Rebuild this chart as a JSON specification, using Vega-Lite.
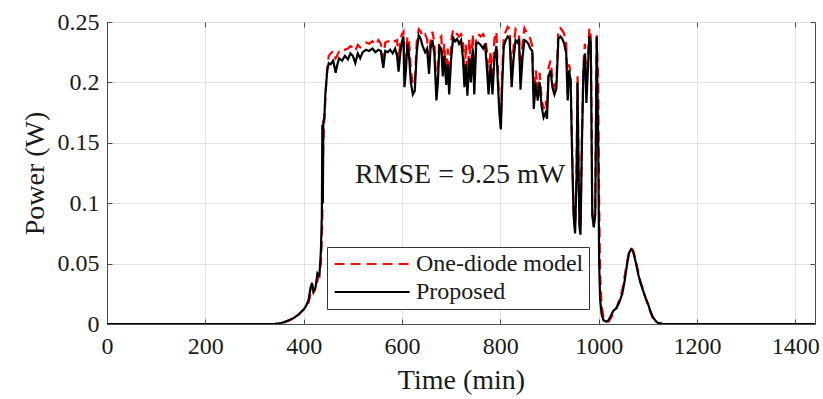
{
  "$schema": "https://vega.github.io/schema/vega-lite/v6.json",
  "width": 708,
  "height": 302,
  "autosize": "none",
  "padding": {"left": 107, "top": 22, "right": 8, "bottom": 75},
  "background": "white",
  "config": {
    "font": "Liberation Serif",
    "view": {"stroke": "#4d4d4d", "strokeWidth": 1},
    "style": {
      "guide-label": {"font": "Liberation Serif"},
      "guide-title": {"font": "Liberation Serif"}
    },
    "axis": {
      "labelFont": "Liberation Serif",
      "titleFont": "Liberation Serif",
      "titleFontWeight": "normal",
      "labelColor": "#1a1a1a",
      "titleColor": "#1a1a1a",
      "labelFontSize": 24,
      "titleFontSize": 28,
      "gridColor": "#e3e3e3",
      "gridWidth": 1,
      "domainColor": "#4d4d4d",
      "tickColor": "#4d4d4d",
      "tickSize": -5
    },
    "legend": {"labelFont": "Liberation Serif"}
  },
  "datasets": {
    "power": [
      {"t": 0, "model": 0, "proposed": 0},
      {"t": 100, "model": 0, "proposed": 0},
      {"t": 200, "model": 0, "proposed": 0},
      {"t": 300, "model": 0, "proposed": 0},
      {"t": 340, "model": 0, "proposed": 0},
      {"t": 350, "model": 0.0005, "proposed": 0.0005},
      {"t": 360, "model": 0.0015, "proposed": 0.0015},
      {"t": 370, "model": 0.003, "proposed": 0.003},
      {"t": 380, "model": 0.005, "proposed": 0.005},
      {"t": 390, "model": 0.008, "proposed": 0.008},
      {"t": 400, "model": 0.012, "proposed": 0.012},
      {"t": 405, "model": 0.014, "proposed": 0.015},
      {"t": 410, "model": 0.018, "proposed": 0.02},
      {"t": 414, "model": 0.025, "proposed": 0.03},
      {"t": 417, "model": 0.03, "proposed": 0.034},
      {"t": 420, "model": 0.026, "proposed": 0.027},
      {"t": 424, "model": 0.029, "proposed": 0.03},
      {"t": 428, "model": 0.036, "proposed": 0.042},
      {"t": 432, "model": 0.042, "proposed": 0.04},
      {"t": 435, "model": 0.05, "proposed": 0.06},
      {"t": 437, "model": 0.07, "proposed": 0.09},
      {"t": 438, "model": 0.09, "proposed": 0.165},
      {"t": 439, "model": 0.12, "proposed": 0.1},
      {"t": 440, "model": 0.15, "proposed": 0.168},
      {"t": 442, "model": 0.17, "proposed": 0.17},
      {"t": 444, "model": 0.185, "proposed": 0.19},
      {"t": 446, "model": 0.2, "proposed": 0.2},
      {"t": 448, "model": 0.212, "proposed": 0.21},
      {"t": 451, "model": 0.222, "proposed": 0.216},
      {"t": 455, "model": 0.224, "proposed": 0.215},
      {"t": 460, "model": 0.226, "proposed": 0.218},
      {"t": 465, "model": 0.22, "proposed": 0.208},
      {"t": 468, "model": 0.222, "proposed": 0.214},
      {"t": 472, "model": 0.226, "proposed": 0.22},
      {"t": 478, "model": 0.228, "proposed": 0.218},
      {"t": 484, "model": 0.227, "proposed": 0.222},
      {"t": 490, "model": 0.228, "proposed": 0.219},
      {"t": 495, "model": 0.23, "proposed": 0.224},
      {"t": 500, "model": 0.229, "proposed": 0.222},
      {"t": 505, "model": 0.226, "proposed": 0.216},
      {"t": 510, "model": 0.231, "proposed": 0.224},
      {"t": 515, "model": 0.229, "proposed": 0.22},
      {"t": 520, "model": 0.232, "proposed": 0.225},
      {"t": 527, "model": 0.233, "proposed": 0.227},
      {"t": 533, "model": 0.232, "proposed": 0.226},
      {"t": 540, "model": 0.234, "proposed": 0.228},
      {"t": 546, "model": 0.231, "proposed": 0.225},
      {"t": 552, "model": 0.235, "proposed": 0.227},
      {"t": 557, "model": 0.232, "proposed": 0.226},
      {"t": 562, "model": 0.22, "proposed": 0.212},
      {"t": 566, "model": 0.233, "proposed": 0.226},
      {"t": 571, "model": 0.234, "proposed": 0.225},
      {"t": 576, "model": 0.234, "proposed": 0.227},
      {"t": 581, "model": 0.236, "proposed": 0.224},
      {"t": 586, "model": 0.234, "proposed": 0.228},
      {"t": 590, "model": 0.235, "proposed": 0.222},
      {"t": 593, "model": 0.218, "proposed": 0.209},
      {"t": 597, "model": 0.236, "proposed": 0.226},
      {"t": 600, "model": 0.24, "proposed": 0.234},
      {"t": 603, "model": 0.242, "proposed": 0.238},
      {"t": 605, "model": 0.205, "proposed": 0.196},
      {"t": 608, "model": 0.22, "proposed": 0.21},
      {"t": 611, "model": 0.238, "proposed": 0.232},
      {"t": 614, "model": 0.236, "proposed": 0.224},
      {"t": 618, "model": 0.21, "proposed": 0.2},
      {"t": 622, "model": 0.198, "proposed": 0.19},
      {"t": 626, "model": 0.2, "proposed": 0.193},
      {"t": 630, "model": 0.234, "proposed": 0.225},
      {"t": 634, "model": 0.244, "proposed": 0.239},
      {"t": 638, "model": 0.242, "proposed": 0.236},
      {"t": 642, "model": 0.238, "proposed": 0.23},
      {"t": 647, "model": 0.24, "proposed": 0.225},
      {"t": 651, "model": 0.236, "proposed": 0.228},
      {"t": 655, "model": 0.214, "proposed": 0.207},
      {"t": 658, "model": 0.236, "proposed": 0.228},
      {"t": 662, "model": 0.242, "proposed": 0.235},
      {"t": 666, "model": 0.232, "proposed": 0.223},
      {"t": 670, "model": 0.194, "proposed": 0.185},
      {"t": 673, "model": 0.21, "proposed": 0.2},
      {"t": 676, "model": 0.236, "proposed": 0.23},
      {"t": 680, "model": 0.238, "proposed": 0.228},
      {"t": 683, "model": 0.212, "proposed": 0.205},
      {"t": 686, "model": 0.232, "proposed": 0.222},
      {"t": 690, "model": 0.206, "proposed": 0.198},
      {"t": 693, "model": 0.228, "proposed": 0.215},
      {"t": 696, "model": 0.2, "proposed": 0.19},
      {"t": 700, "model": 0.234, "proposed": 0.22},
      {"t": 704, "model": 0.244, "proposed": 0.237},
      {"t": 708, "model": 0.242, "proposed": 0.234},
      {"t": 712, "model": 0.24, "proposed": 0.236},
      {"t": 716, "model": 0.238, "proposed": 0.232},
      {"t": 720, "model": 0.24, "proposed": 0.235},
      {"t": 724, "model": 0.236, "proposed": 0.22},
      {"t": 727, "model": 0.2, "proposed": 0.196},
      {"t": 730, "model": 0.232, "proposed": 0.215},
      {"t": 733, "model": 0.196, "proposed": 0.189},
      {"t": 737, "model": 0.236, "proposed": 0.22},
      {"t": 740, "model": 0.21, "proposed": 0.2},
      {"t": 744, "model": 0.24, "proposed": 0.228},
      {"t": 747, "model": 0.2, "proposed": 0.19},
      {"t": 751, "model": 0.238, "proposed": 0.232},
      {"t": 755, "model": 0.24, "proposed": 0.233},
      {"t": 760, "model": 0.238, "proposed": 0.231},
      {"t": 765, "model": 0.24, "proposed": 0.228},
      {"t": 769, "model": 0.236, "proposed": 0.232},
      {"t": 773, "model": 0.226, "proposed": 0.21},
      {"t": 776, "model": 0.198, "proposed": 0.19},
      {"t": 780, "model": 0.226, "proposed": 0.215},
      {"t": 784, "model": 0.2, "proposed": 0.19},
      {"t": 788, "model": 0.236, "proposed": 0.22},
      {"t": 792, "model": 0.242, "proposed": 0.23},
      {"t": 795, "model": 0.21, "proposed": 0.2},
      {"t": 798, "model": 0.182, "proposed": 0.175},
      {"t": 801, "model": 0.168, "proposed": 0.161},
      {"t": 804, "model": 0.21, "proposed": 0.2},
      {"t": 807, "model": 0.238, "proposed": 0.23},
      {"t": 811, "model": 0.242, "proposed": 0.235},
      {"t": 815, "model": 0.246, "proposed": 0.238},
      {"t": 819, "model": 0.244, "proposed": 0.236},
      {"t": 823, "model": 0.205, "proposed": 0.196},
      {"t": 827, "model": 0.23, "proposed": 0.22},
      {"t": 831, "model": 0.244, "proposed": 0.235},
      {"t": 835, "model": 0.242, "proposed": 0.233},
      {"t": 838, "model": 0.24, "proposed": 0.236},
      {"t": 841, "model": 0.2, "proposed": 0.194},
      {"t": 845, "model": 0.232, "proposed": 0.22},
      {"t": 849, "model": 0.245, "proposed": 0.235},
      {"t": 853, "model": 0.242, "proposed": 0.234},
      {"t": 857, "model": 0.24, "proposed": 0.232},
      {"t": 861, "model": 0.236, "proposed": 0.228},
      {"t": 865, "model": 0.23, "proposed": 0.226},
      {"t": 868, "model": 0.184, "proposed": 0.178},
      {"t": 872, "model": 0.21, "proposed": 0.2},
      {"t": 876, "model": 0.195, "proposed": 0.185},
      {"t": 880, "model": 0.208, "proposed": 0.2},
      {"t": 884, "model": 0.186, "proposed": 0.18},
      {"t": 888, "model": 0.178, "proposed": 0.171},
      {"t": 892, "model": 0.185, "proposed": 0.175},
      {"t": 895, "model": 0.178, "proposed": 0.17},
      {"t": 898, "model": 0.212, "proposed": 0.205},
      {"t": 902, "model": 0.218, "proposed": 0.21},
      {"t": 906, "model": 0.204, "proposed": 0.196},
      {"t": 910, "model": 0.196, "proposed": 0.19},
      {"t": 914, "model": 0.2, "proposed": 0.195},
      {"t": 918, "model": 0.244, "proposed": 0.236},
      {"t": 922, "model": 0.245, "proposed": 0.238},
      {"t": 926, "model": 0.243, "proposed": 0.236},
      {"t": 930, "model": 0.24, "proposed": 0.232},
      {"t": 934, "model": 0.232, "proposed": 0.224},
      {"t": 937, "model": 0.19, "proposed": 0.185},
      {"t": 940, "model": 0.215, "proposed": 0.21},
      {"t": 943, "model": 0.206, "proposed": 0.2},
      {"t": 946, "model": 0.145, "proposed": 0.14},
      {"t": 949, "model": 0.094, "proposed": 0.09},
      {"t": 952, "model": 0.078, "proposed": 0.075},
      {"t": 955, "model": 0.125, "proposed": 0.12},
      {"t": 957, "model": 0.205, "proposed": 0.2},
      {"t": 959, "model": 0.135, "proposed": 0.13},
      {"t": 961, "model": 0.083, "proposed": 0.08},
      {"t": 963, "model": 0.078, "proposed": 0.074},
      {"t": 966, "model": 0.155, "proposed": 0.15},
      {"t": 969, "model": 0.215, "proposed": 0.21},
      {"t": 972, "model": 0.232, "proposed": 0.224},
      {"t": 975, "model": 0.19, "proposed": 0.183},
      {"t": 978, "model": 0.22, "proposed": 0.21},
      {"t": 981, "model": 0.245, "proposed": 0.238},
      {"t": 984, "model": 0.238, "proposed": 0.232},
      {"t": 987, "model": 0.095, "proposed": 0.09},
      {"t": 990, "model": 0.082, "proposed": 0.08},
      {"t": 993, "model": 0.092, "proposed": 0.09},
      {"t": 996, "model": 0.24, "proposed": 0.238},
      {"t": 999, "model": 0.2, "proposed": 0.15},
      {"t": 1001, "model": 0.1, "proposed": 0.05},
      {"t": 1003, "model": 0.04, "proposed": 0.02},
      {"t": 1006, "model": 0.015, "proposed": 0.008},
      {"t": 1010, "model": 0.005, "proposed": 0.003},
      {"t": 1015, "model": 0.002, "proposed": 0.002},
      {"t": 1020, "model": 0.002, "proposed": 0.003},
      {"t": 1025, "model": 0.005, "proposed": 0.007},
      {"t": 1030, "model": 0.009, "proposed": 0.011},
      {"t": 1036, "model": 0.013, "proposed": 0.013},
      {"t": 1042, "model": 0.02, "proposed": 0.018},
      {"t": 1048, "model": 0.028, "proposed": 0.025},
      {"t": 1053, "model": 0.04, "proposed": 0.036},
      {"t": 1058, "model": 0.052, "proposed": 0.05},
      {"t": 1062, "model": 0.06, "proposed": 0.059},
      {"t": 1066, "model": 0.063, "proposed": 0.062},
      {"t": 1070, "model": 0.061, "proposed": 0.06},
      {"t": 1075, "model": 0.054, "proposed": 0.052},
      {"t": 1080, "model": 0.044, "proposed": 0.042},
      {"t": 1085, "model": 0.035, "proposed": 0.034},
      {"t": 1090, "model": 0.029, "proposed": 0.028},
      {"t": 1095, "model": 0.022, "proposed": 0.022},
      {"t": 1100, "model": 0.016, "proposed": 0.017},
      {"t": 1105, "model": 0.01, "proposed": 0.011},
      {"t": 1110, "model": 0.005, "proposed": 0.006},
      {"t": 1115, "model": 0.002, "proposed": 0.003},
      {"t": 1120, "model": 0.001, "proposed": 0.001},
      {"t": 1130, "model": 0, "proposed": 0},
      {"t": 1200, "model": 0, "proposed": 0},
      {"t": 1300, "model": 0, "proposed": 0},
      {"t": 1440, "model": 0, "proposed": 0}
    ],
    "note": [{"label": "RMSE = 9.25 mW", "t": 718, "power": 0.123}]
  },
  "layer": [
    {
      "data": {"name": "power"},
      "transform": [{"fold": ["model", "proposed"], "as": ["key", "power"]}],
      "mark": {"type": "line", "strokeWidth": 2.2, "clip": true},
      "encoding": {
        "x": {
          "field": "t", "type": "quantitative",
          "scale": {"domain": [0, 1440], "nice": false},
          "axis": {"values": [0, 200, 400, 600, 800, 1000, 1200, 1400], "format": "d", "grid": true, "labelPadding": 15, "titlePadding": 8, "labelFlush": false, "labelFont": "Liberation Serif", "titleFont": "Liberation Serif"},
          "title": "Time (min)"
        },
        "y": {
          "field": "power", "type": "quantitative",
          "scale": {"domain": [0, 0.25], "nice": false},
          "axis": {"values": [0, 0.05, 0.1, 0.15, 0.2, 0.25], "format": "~g", "grid": true, "labelPadding": 13, "titlePadding": 8, "labelFlush": false, "labelFont": "Liberation Serif", "titleFont": "Liberation Serif"},
          "title": "Power (W)"
        },
        "color": {
          "field": "key", "type": "nominal",
          "scale": {"domain": ["model", "proposed"], "range": ["#ff0000", "#000000"]},
          "legend": {
            "orient": "none", "legendX": 220, "legendY": 225, "title": null,
            "labelFont": "Liberation Serif", "labelFontSize": 24, "labelColor": "#1a1a1a",
            "labelExpr": "datum.label == 'model' ? 'One-diode model' : 'Proposed'",
            "labelLimit": 0, "strokeColor": "#333333", "fillColor": "white", "padding": 5,
            "symbolType": "M-1,0H7", "symbolSize": 352, "symbolStrokeWidth": 2.2,
            "labelOffset": 60, "rowPadding": 4
          }
        },
        "strokeDash": {
          "field": "key", "type": "nominal",
          "scale": {"domain": ["model", "proposed"], "range": [[10, 6], [1, 0]]},
          "legend": {
            "orient": "none", "legendX": 220, "legendY": 225, "title": null,
            "labelFont": "Liberation Serif", "labelFontSize": 24, "labelColor": "#1a1a1a",
            "labelExpr": "datum.label == 'model' ? 'One-diode model' : 'Proposed'",
            "labelLimit": 0, "strokeColor": "#333333", "fillColor": "white", "padding": 5,
            "symbolType": "M-1,0H7", "symbolSize": 352, "symbolStrokeWidth": 2.2,
            "labelOffset": 60, "rowPadding": 4
          }
        }
      }
    },
    {
      "data": {"name": "note"},
      "mark": {"type": "point", "opacity": 0},
      "encoding": {
        "x": {"field": "t", "type": "quantitative", "axis": {"orient": "top", "values": [0, 200, 400, 600, 800, 1000, 1200, 1400], "labels": false, "title": null, "grid": false, "domain": false}},
        "y": {"field": "power", "type": "quantitative", "axis": {"orient": "right", "values": [0, 0.05, 0.1, 0.15, 0.2, 0.25], "labels": false, "title": null, "grid": false, "domain": false}}
      }
    },
    {
      "data": {"name": "note"},
      "mark": {"type": "text", "font": "Liberation Serif", "fontSize": 28, "color": "#1a1a1a", "align": "center", "baseline": "middle"},
      "encoding": {
        "x": {"field": "t", "type": "quantitative", "axis": null},
        "y": {"field": "power", "type": "quantitative", "axis": null},
        "text": {"field": "label"}
      }
    }
  ],
  "resolve": {"axis": {"x": "independent", "y": "independent"}}
}
